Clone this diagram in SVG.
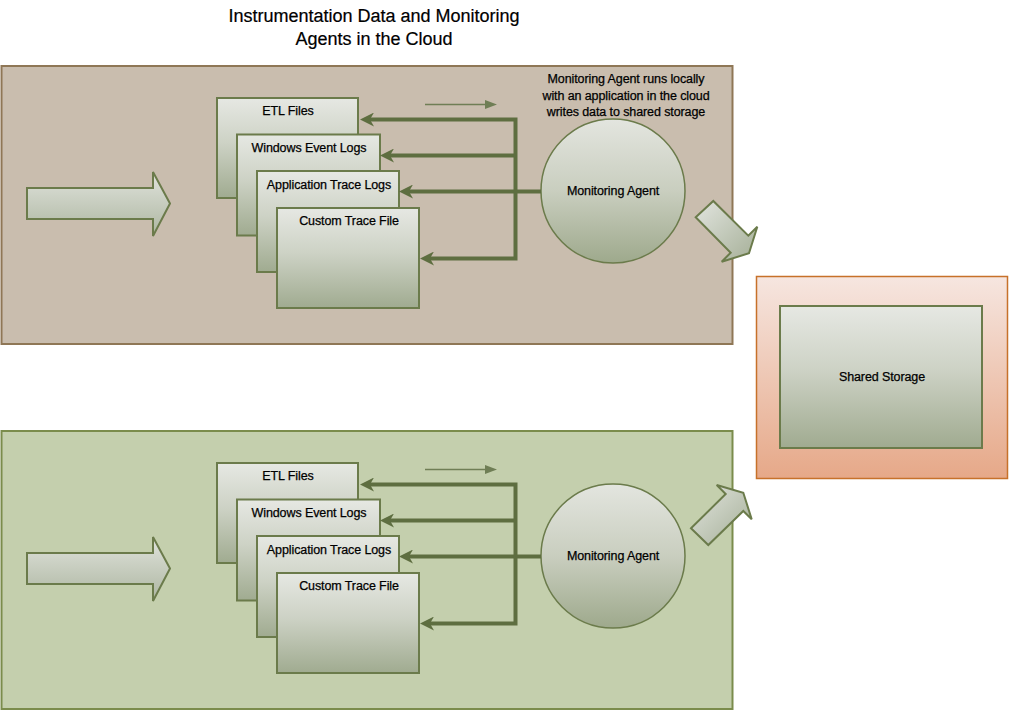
<svg xmlns="http://www.w3.org/2000/svg" width="1010" height="711" viewBox="0 0 1010 711">
<style>
text{font-family:"Liberation Sans",Arial,sans-serif;fill:#000;text-anchor:middle;stroke:#000;stroke-width:0.25}
.lbl{font-size:12.5px;letter-spacing:-0.1px}
.title{font-size:18px;letter-spacing:0px;stroke-width:0.2}
.doc{fill:url(#gBox);stroke:#6b7b4b;stroke-width:2}
.big{fill:url(#gArrow);stroke:#6b7b4b;stroke-width:2}
.diag{fill:url(#gDiag);stroke:#6b7b4b;stroke-width:2}
.agent{fill:url(#gCircle);stroke:#6b7b4b;stroke-width:1.5}
.conn{fill:none;stroke:#5e6e40;stroke-width:4;stroke-linejoin:miter}
.thin{fill:none;stroke:#6f7e55;stroke-width:1.3}
</style>
<defs>
<linearGradient id="gBox" x1="0" y1="0" x2="0" y2="1"><stop offset="0" stop-color="#e6e8e3"/><stop offset="0.45" stop-color="#cdd2c5"/><stop offset="1" stop-color="#a0ab90"/></linearGradient>
<linearGradient id="gArrow" x1="0" y1="0" x2="0" y2="1"><stop offset="0" stop-color="#e0e3dc"/><stop offset="1" stop-color="#adb6a1"/></linearGradient>
<linearGradient id="gDiag" x1="0" y1="0" x2="1" y2="1"><stop offset="0" stop-color="#e2e5df"/><stop offset="1" stop-color="#a4ae96"/></linearGradient>
<linearGradient id="gCircle" x1="0" y1="0" x2="0" y2="1"><stop offset="0" stop-color="#e3e5df"/><stop offset="0.5" stop-color="#c9cebf"/><stop offset="1" stop-color="#9ea98c"/></linearGradient>
<linearGradient id="gStore" x1="0" y1="0" x2="0" y2="1"><stop offset="0" stop-color="#f6e6e0"/><stop offset="1" stop-color="#e6a888"/></linearGradient>
<marker id="ah" viewBox="0 0 14 14" refX="4" refY="7" markerWidth="14" markerHeight="14" markerUnits="userSpaceOnUse" orient="auto-start-reverse"><path d="M0,0 L14,7 L0,14 L4,7 z" fill="#5e6e40"/></marker>
</defs>

<g id="title">
<text class="title" x="374" y="22">Instrumentation Data and Monitoring</text>
<text class="title" x="374" y="45">Agents in the Cloud</text>
</g>

<g id="panel-top"><rect x="1.5" y="66" width="731" height="278" fill="#c9bdae" stroke="#8f7756" stroke-width="2"/></g>
<g id="panel-bottom"><rect x="1.5" y="431" width="731" height="278" fill="#c4cfad" stroke="#7b8c4c" stroke-width="2"/></g>

<g id="shared-storage">
<rect x="756.5" y="276.5" width="251" height="202" fill="url(#gStore)" stroke="#c7712a" stroke-width="1.5"/>
<rect x="780" y="306" width="202" height="142" class="doc"/>
<text class="lbl" x="882" y="381">Shared Storage</text>
</g>

<g id="top-section">
<g id="input-arrow-top"><polygon class="big" points="27,188 153,188 153,172 170,203.5 153,236 153,219 27,219"/></g>
<g id="etl-top"><rect class="doc" x="217" y="98" width="141" height="100"/><text class="lbl" x="288" y="115">ETL Files</text></g>
<g id="winlogs-top"><rect class="doc" x="237" y="134.5" width="143" height="101"/><text class="lbl" x="309" y="152">Windows Event Logs</text></g>
<g id="apptrace-top"><rect class="doc" x="257" y="171" width="142" height="101"/><text class="lbl" x="329" y="189">Application Trace Logs</text></g>
<g id="custom-top"><rect class="doc" x="277" y="208" width="142" height="100"/><text class="lbl" x="349" y="225">Custom Trace File</text></g>
<g id="agent-top"><circle class="agent" cx="613" cy="191" r="72"/><text class="lbl" x="613" y="195">Monitoring Agent</text></g>
<g id="note-top">
<text class="lbl" x="626" y="83">Monitoring Agent runs locally</text>
<text class="lbl" x="626" y="100">with an application in the cloud</text>
<text class="lbl" x="626" y="116">writes data to shared storage</text>
</g>
<g id="out-arrow-top"><polygon class="diag" points="695.7,217.3 713.3,201 748.3,235.7 757.3,226.7 749,253.3 721.7,261.7 730.7,252.7"/></g>
</g>

<g id="bottom-section">
<g id="input-arrow-bottom"><polygon class="big" points="27,553 153,553 153,537 170,568.5 153,601 153,584 27,584"/></g>
<g id="etl-bottom"><rect class="doc" x="217" y="463" width="141" height="100"/><text class="lbl" x="288" y="480">ETL Files</text></g>
<g id="winlogs-bottom"><rect class="doc" x="237" y="499.5" width="143" height="101"/><text class="lbl" x="309" y="517">Windows Event Logs</text></g>
<g id="apptrace-bottom"><rect class="doc" x="257" y="536" width="142" height="101"/><text class="lbl" x="329" y="554">Application Trace Logs</text></g>
<g id="custom-bottom"><rect class="doc" x="277" y="573" width="142" height="100"/><text class="lbl" x="349" y="590">Custom Trace File</text></g>
<g id="agent-bottom"><circle class="agent" cx="613" cy="556" r="72"/><text class="lbl" x="613" y="560">Monitoring Agent</text></g>
<g id="out-arrow-bottom"><polygon class="diag" points="691,528.3 708.3,545 743.3,511 751.7,519.3 743.3,492.7 716.7,485 725.7,494"/></g>
</g>

<g id="connectors">
<path class="conn" d="M370,119.5 H515.5 V258.5 H430" marker-start="url(#ah)" marker-end="url(#ah)"/>
<path class="conn" d="M515.5,155.5 H390" marker-end="url(#ah)"/>
<path class="conn" d="M541,191.5 H409" marker-end="url(#ah)"/>
<path class="thin" d="M425,104.5 H487"/>
<polygon points="485,100 497,104.5 485,109" fill="#6f7e55"/>

<path class="conn" d="M370,484.5 H515.5 V623.5 H430" marker-start="url(#ah)" marker-end="url(#ah)"/>
<path class="conn" d="M515.5,520.5 H390" marker-end="url(#ah)"/>
<path class="conn" d="M541,556.5 H409" marker-end="url(#ah)"/>
<path class="thin" d="M425,469.5 H487"/>
<polygon points="485,465 497,469.5 485,474" fill="#6f7e55"/>
</g>
</svg>
